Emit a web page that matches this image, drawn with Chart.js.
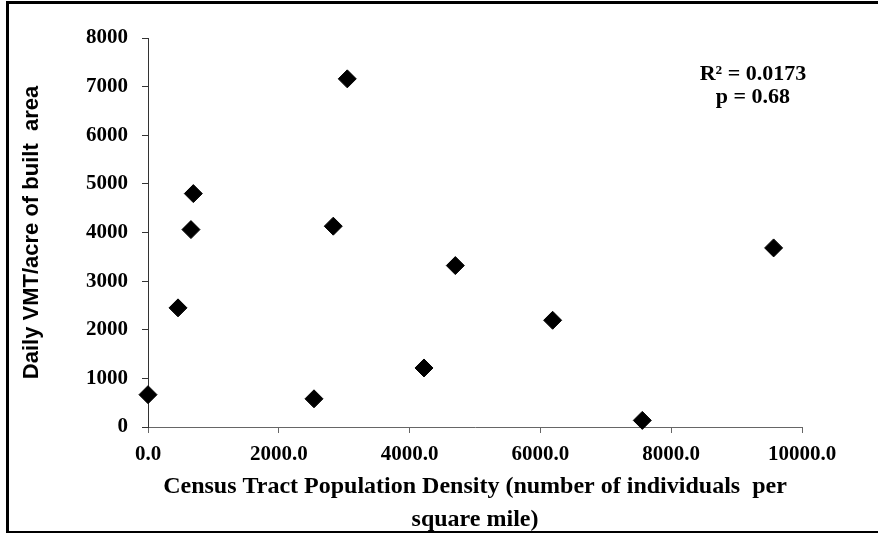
<!DOCTYPE html>
<html>
<head>
<meta charset="utf-8">
<script src="https://cdn.jsdelivr.net/npm/chart.js@4"></script>
<style>
  html, body { margin: 0; padding: 0; background: #fff; overflow: hidden; }
  #wrap { position: relative; width: 878px; height: 533px; }
  #chart { position: absolute; left: 0; top: 0; }
  #frame {
    position: absolute; left: 6px; top: 1px; width: 900px; height: 532px;
    border-left: 3px solid #000; border-top: 3px solid #000; border-bottom: 2px solid #000;
    box-sizing: border-box; pointer-events: none;
  }
</style>
</head>
<body>
<div id="wrap">
  <canvas id="chart" width="878" height="533"></canvas>
  <div id="frame"></div>
</div>
<script>
// population density (per sq mile) vs daily VMT per acre of built area
const density = [0, 459, 657, 693, 2538, 2833, 3047, 4220, 4699, 6187, 7558, 9566];
const vmt = [665, 2450, 4060, 4800, 580, 4130, 7160, 1214, 3320, 2195, 136, 3683];
const xTicks = [0, 2000, 4000, 6000, 8000, 10000];
const yTicks = [0, 1000, 2000, 3000, 4000, 5000, 6000, 7000, 8000];
const statLines = ["R\u00b2 = 0.0173", "p = 0.68"];

const serif = "'Liberation Serif', 'Times New Roman', serif";
const sans = "'Liberation Sans', Arial, sans-serif";

const points = density.map((d, i) => ({ x: d, y: vmt[i] }));

// R^2 / p text in the upper right
const statsText = {
  id: "statsText",
  afterDraw(chart) {
    const { ctx, scales } = chart;
    const x = scales.x.getPixelForValue(9250);
    ctx.save();
    ctx.font = "bold 22px " + serif;
    ctx.fillStyle = "#000";
    ctx.textAlign = "center";
    ctx.textBaseline = "alphabetic";
    ctx.fillText(statLines[0], x, scales.y.getPixelForValue(7000) - 7);
    ctx.fillText(statLines[1], x, scales.y.getPixelForValue(6500) - 8);
    ctx.restore();
  },
};

const ctx = document.getElementById("chart").getContext("2d");
new Chart(ctx, {
  type: "scatter",
  data: {
    datasets: [
      {
        data: points,
        pointStyle: "rectRot",
        pointRadius: 9,
        pointBorderWidth: 1,
        backgroundColor: "#000",
        borderColor: "#000",
        clip: false,
      },
    ],
  },
  options: {
    responsive: false,
    animation: false,
    layout: { padding: { top: 38, right: 76, left: 0, bottom: 0 } },
    plugins: {
      legend: { display: false },
      tooltip: { enabled: false },
    },
    scales: {
      x: {
        type: "linear",
        min: 0,
        max: 10000,
        afterBuildTicks: (s) => { s.ticks = xTicks.map((v) => ({ value: v })); },
        afterFit: (s) => { s.height = 106; },
        ticks: {
          padding: 9,
          color: "#000",
          maxRotation: 0,
          font: { family: serif, size: 21, weight: "bold" },
          callback: (v) => Number(v).toFixed(1),
        },
        grid: { drawOnChartArea: false, tickLength: 6, color: "#666" },
        border: { color: "#666" },
        title: {
          display: true,
          text: ["Census Tract Population Density (number of individuals  per", "square mile)"],
          color: "#000",
          padding: { top: 0, bottom: -3 },
          font: { family: serif, size: 24, weight: "bold", lineHeight: "33px" },
        },
      },
      y: {
        type: "linear",
        min: 0,
        max: 8000,
        afterBuildTicks: (s) => { s.ticks = yTicks.map((v) => ({ value: v })); },
        afterFit: (s) => { s.width = 148; },
        ticks: {
          padding: 14,
          color: "#000",
          font: { family: serif, size: 21, weight: "bold" },
          callback: (v) => String(v),
        },
        grid: { drawOnChartArea: false, tickLength: 6, color: "#333" },
        border: { color: "#333" },
        title: {
          display: true,
          text: "Daily VMT/acre of built  area",
          color: "#000",
          padding: { top: 19, bottom: 0 },
          font: { family: sans, size: 22, weight: "bold", lineHeight: 1.2 },
        },
      },
    },
  },
  plugins: [statsText],
});
</script>
</body>
</html>
